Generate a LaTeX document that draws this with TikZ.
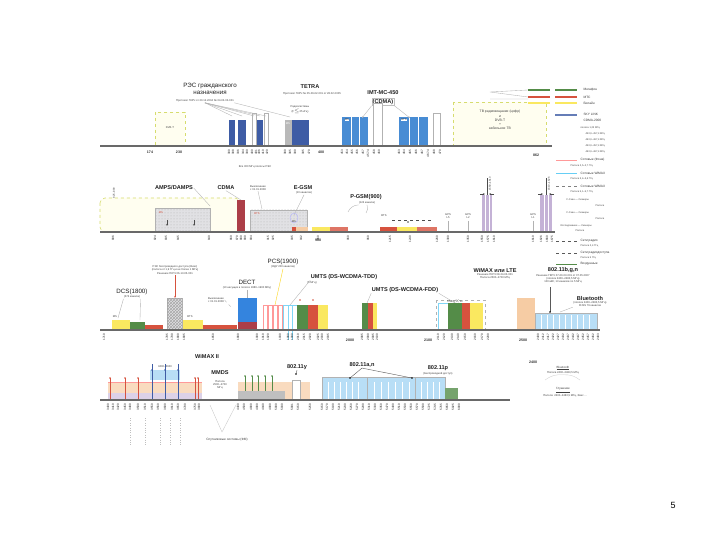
\documentclass[tikz,border=0pt]{standalone}
\usepackage{fontspec}
\setmainfont{Liberation Sans}
\usetikzlibrary{patterns,arrows.meta}
\definecolor{bdark}{RGB}{62,92,165}
\definecolor{bcdma}{RGB}{72,140,212}
\definecolor{pgreen}{RGB}{84,140,72}
\definecolor{pred}{RGB}{214,82,62}
\definecolor{pyell}{RGB}{250,232,96}
\definecolor{porange}{RGB}{246,204,164}
\definecolor{plblue}{RGB}{184,222,246}
\definecolor{pgray}{RGB}{205,205,210}
\definecolor{ppurp}{RGB}{196,178,214}
\definecolor{pdect}{RGB}{52,132,222}
\definecolor{cdmared}{RGB}{172,62,72}
\definecolor{dvbline}{RGB}{214,220,110}
\definecolor{axisc}{RGB}{105,105,105}
\tikzset{
  axis/.style={line width=1.7pt, draw=axisc},
  tick/.style={font=\fontsize{3.1}{3.5}\selectfont, rotate=90, anchor=east, inner sep=0.4pt, text=gray!35!black},
  hlab/.style={font=\bfseries\fontsize{3.6}{4}\selectfont, inner sep=0.5pt, text=gray!40!black},
  ttl/.style={font=\fontsize{6.2}{7}\selectfont, inner sep=0.5pt, text=gray!25!black, align=center},
  bttl/.style={font=\bfseries\fontsize{5.6}{6.5}\selectfont, inner sep=0.5pt, text=gray!25!black, align=center},
  sub/.style={font=\fontsize{2.7}{3.2}\selectfont, inner sep=0.4pt, text=gray!50!black, align=center},
  dvb/.style={draw=dvbline, dashed, fill=yellow!6, line width=0.6pt},
  gbox/.style={draw=gray!60, fill=pgray!60, pattern color=gray!60},
  conn/.style={draw=gray!60, line width=0.35pt},
  leg/.style={font=\fontsize{3.2}{3.8}\selectfont, anchor=west, inner sep=0.4pt, text=gray!45!black},
  legs/.style={font=\fontsize{2.5}{3}\selectfont, anchor=west, inner sep=0.4pt, text=gray!55!black},
  wbar/.style={draw=gray!60, fill=white, line width=0.4pt}
}
\begin{document}
\begin{tikzpicture}[x=1pt,y=-1pt]
\useasboundingbox (0,0) rectangle (720,540);
\fill[white] (0,0) rectangle (720,540);

%% ================= ROW 1 =================
\coordinate (a1s) at (100,146); \coordinate (a1e) at (552,146);
\draw[dvb] (155,112) rectangle (185,145);
\node[sub] (dvbt1) at (170,128) {DVB-T};
\fill[bdark] (229,120) rectangle (235,146);
\fill[bdark] (238,120) rectangle (246,146);
\draw[wbar] (252,113) rectangle (256,146);
\fill[bdark] (257,120) rectangle (263,146);
\draw[wbar] (264,113) rectangle (268,146);
\fill[gray!55] (285,120) rectangle (292,146);
\fill[bdark] (292,120) rectangle (309,146);
\node[sub,text=white] (tms) at (288,124) {MS};
\node[ttl] (rec) at (210,89) {РЭС гражданского\\назначения};
\node[sub] (recs) at (205,101) {Протокол ГКРЧ от 20.12.2004 № 04-03-03-001};
\foreach \x/\n in {232/r1,242/r2,254/r3,260/r4,266/r5}{\coordinate (\n) at (\x,116);}
\foreach \n in {r1,r2,r3,r4,r5}{\draw[conn] (recs.south) -- (\n);}
\draw[conn] (recs.south east) -- (290,117);
\node[bttl] (tetra) at (310,87) {TETRA};
\node[sub] (tetras) at (312,94) {Протокол ГКРЧ № 05-06-02-001 от 28.02.2005};
\node[sub] (radio) at (300,110) {Радиосистемы\\(F$\le$25 кГц)};
\node[bttl] (imt) at (383,93) {IMT-MC-450};
\node[bttl,draw=gray!50,inner sep=1pt] (cdma1) at (383,102) {(CDMA)};
\fill[bcdma] (342,117) rectangle (368,146);
\draw[white,line width=0.3pt] (351,117) -- (351,146) (359,117) -- (359,146);
\draw[wbar] (373,103) rectangle (382,146);
\fill[bcdma] (399,117) rectangle (428,146);
\draw[white,line width=0.3pt] (409,117) -- (409,146) (418,117) -- (418,146);
\draw[wbar] (433,113) rectangle (440,146);
\node[sub,fill=white] (ms1) at (347,120) {MS};
\node[sub,fill=white] (bts1) at (404,120) {BTS};
\coordinate (c1a) at (362,118); \coordinate (c1b) at (410,118);
\draw[conn,-{Stealth[length=2pt]}] (cdma1.south west) -- (c1a);
\draw[conn,-{Stealth[length=2pt]}] (cdma1.south east) -- (c1b);
\draw[dvb] (453,102) rectangle (546,145);
\node[sub,font=\fontsize{3.4}{4.2}\selectfont] (tv) at (500,120) {ТВ радиовещание (цифр)\\и\\DVB-T\\+\\кабельное ТВ};
\draw[axis] (a1s) -- (a1e);
\node[hlab] (l174) at (150,152) {174};
\node[hlab] (l230) at (179,152) {230};
\node[hlab] (l400) at (321,152) {400};
\node[hlab] (l862) at (536,155) {862};
\foreach \x/\t [count=\i] in {229/300,233/308,238/336,243/344,247/390,252/400,256/401,259/406,263/410,267/420,285/380,290/385,295/390,303/395,309/470,342/453,347/454,352/455,357/456,363/457,368/457.4,374/458,379/460,399/463,404/464,410/465,416/466,422/467,428/467.4,434/468,440/470}{
  \node[tick,name=t1\i] at (\x,149) {\t};}
\node[sub] (r1note) at (255,167) {Все 300 МГц полосы РЭС};

%% legend
\coordinate (lg0) at (490,92); \coordinate (lg0b) at (490,99);
\draw[conn] (lg0) -- (528,90) (lg0) -- (528,97) (lg0b) -- (528,99);
\foreach \y/\c/\t [count=\i] in {90/pgreen/Мегафон,97/pred/МТС,103/pyell/Билайн}{
  \draw[line width=2.2pt,\c] (528,\y) -- (550,\y) (555,\y) -- (577,\y);
  \node[leg,name=lg\i] at (583,\y) {\t};}
\draw[line width=1.3pt,bdark!80] (555,115) -- (577,115);
\node[leg] (lg4) at (583,114) {SKY LINK};
\node[leg] (lg5) at (583,120) {CDMA-2000};
\node[legs] (lg6) at (580,128) {полоса 1,23 МГц};
\foreach \y/\t [count=\i] in {134/453{,}0--457{,}4 МГц,140/463{,}0--467{,}4 МГц,146/453{,}0--457{,}4 МГц,152/463{,}0--467{,}4 МГц}{
  \node[legs,name=lgs\i] at (585,\y) {\t};}
\draw[line width=0.8pt,pink!80!red] (556,160) -- (577,160);
\node[leg] (lg7) at (580,160) {Сотовые (Фона)};
\node[legs] (lg8) at (570,166) {Полоса 2,5--2,7 ГГц};
\draw[line width=0.8pt,cyan!60] (556,173) -- (577,173);
\node[leg] (lg9) at (580,173) {Сотовые WiMAX};
\node[legs] (lg10) at (570,179) {Полоса 3,4--3,6 ГГц};
\draw[line width=0.8pt,gray,dashed] (556,186) -- (577,186);
\node[leg] (lg11) at (580,186) {Сотовые WiMAX};
\node[legs] (lg12) at (570,192) {Полоса 5,1--5,7 ГГц};
\node[legs] (lg13) at (566,200) {F-Скан — Сканеры};
\node[legs] (lg14) at (595,206) {Полоса};
\node[legs] (lg15) at (566,213) {F-Скан — Сканеры};
\node[legs] (lg16) at (595,219) {Полоса};
\node[legs] (lg17) at (560,226) {Исследование — Сканеры};
\node[legs] (lg18) at (575,231) {Полоса};
\draw[line width=0.8pt,gray!70!black,dashed] (556,241) -- (577,241);
\node[leg] (lg19) at (580,241) {Сети радио};
\node[legs] (lg20) at (580,246) {Полоса 2,4 ГГц};
\draw[line width=0.8pt,gray!70!black,dashed] (556,253) -- (577,253);
\node[leg] (lg21) at (580,253) {Сети радиодоступа};
\node[legs] (lg22) at (580,258) {Полоса 5 ГГц};
\draw[line width=0.8pt,pgreen] (556,264) -- (577,264);
\node[leg] (lg23) at (580,264) {Воздушные};

%% ================= ROW 2 =================
\coordinate (a2s) at (100,232); \coordinate (a2e) at (555,232);
\draw[dvb,rounded corners=5pt] (100,198) rectangle (240,232);
\node[sub,rotate=90] (r2v) at (114,193) {825--890};
\draw[gbox] (155,208) rectangle (210,232);
\fill[pattern=dots,pattern color=gray!60] (155,208) rectangle (210,232);
\node[sub,text=pred] (ms2) at (161,213) {MS};
\draw[-{Stealth[length=2pt]},gray!60!black,line width=0.3pt] (167,220) -- (167,226);
\draw[-{Stealth[length=2pt]},gray!60!black,line width=0.3pt] (194,220) -- (194,226);
\node[bttl] (amps) at (174,188) {AMPS/DAMPS};
\coordinate (c2a) at (210,206);
\draw[conn] (amps.east) -- (c2a);
\node[bttl] (cdma2) at (226,188) {CDMA};
\fill[cdmared] (237,200) rectangle (245,232);
\draw[gbox] (250,210) rectangle (307,232);
\fill[pattern=dots,pattern color=gray!60] (250,210) rectangle (307,232);
\node[sub,text=pred] (bts2) at (257,214) {BTS};
\coordinate (c2b) at (241,200); \coordinate (c2c) at (262,209);
\draw[conn] (cdma2.south) -- (c2b);
\node[sub] (vykl1) at (258,188) {Выключение\\с 01.01.2008};
\draw[conn] (vykl1.south) -- (c2c);
\node[bttl] (egsm) at (303,188) {E-GSM};
\node[sub] (egsms) at (304,193) {(10 каналов)};
\coordinate (c2d) at (294,215);
\draw[conn] (egsms.south) -- (c2d);
\draw[blue!30,line width=0.4pt] (294,218) ellipse (4 and 5);
\node[sub] (ms3) at (294,222) {MS};
\fill[porange] (292,227) rectangle (308,232);
\fill[pred] (292,227) rectangle (296,232);
\fill[pyell] (312,227) rectangle (330,232);
\fill[pred!80] (330,227) rectangle (348,232);
\node[hlab] (n900) at (318,240) {900};
\node[bttl] (pgsm) at (366,197) {P-GSM(900)};
\node[sub] (pgsms) at (367,203) {(124 канала)};
\coordinate (c2e) at (348,212); \coordinate (c2f) at (366,213);
\draw[conn] (pgsms.south west) to[bend right=30] (c2e);
\draw[conn] (pgsms.south) to[bend left=30] (c2f);
\fill[pred] (380,227) rectangle (397,232);
\fill[pyell] (397,227) rectangle (417,232);
\fill[pred!80] (417,227) rectangle (437,232);
\node[sub] (bts3) at (384,216) {BTS};
\coordinate (d2a) at (392,220); \coordinate (d2b) at (432,220);
\draw[gray!60!black,dashed,line width=0.3pt] (d2a) -- (d2b);
\fill[gray!60!black] (408,222) circle (0.9);
\node[sub] (gps1) at (448,216) {GPS\\L5};
\node[sub] (gps2) at (468,216) {GPS\\L2};
\node[sub] (gps3) at (533,216) {GPS\\L1};
\coordinate (g1) at (448,221); \coordinate (g2) at (468,221); \coordinate (g3) at (533,221);
\draw[conn] (g1) -- (448,232) (g2) -- (468,232) (g3) -- (533,232);
\fill[ppurp] (482,195) rectangle (492,232);
\draw[white,line width=0.3pt] (485,195) -- (485,232) (489,195) -- (489,232);
\fill[ppurp] (540,195) rectangle (552,232);
\draw[white,line width=0.3pt] (544,195) -- (544,232) (548,195) -- (548,232);
\coordinate (p1) at (487,195); \coordinate (p2) at (546,195);
\draw[gray!60!black,line width=0.3pt] (p1) -- (487,178) (p2) -- (546,178);
\draw[-{Stealth[length=2pt]},gray!60!black,line width=0.3pt] (480,194) -- (485,194);
\draw[-{Stealth[length=2pt]},gray!60!black,line width=0.3pt] (494,194) -- (489,194);
\draw[-{Stealth[length=2pt]},gray!60!black,line width=0.3pt] (538,194) -- (543,194);
\draw[-{Stealth[length=2pt]},gray!60!black,line width=0.3pt] (554,194) -- (549,194);
\node[sub,rotate=90] (gl1) at (490,184) {1559--1610};
\node[sub,rotate=90] (gl2) at (549,184) {1610--1626};
\draw[axis] (a2s) -- (a2e);
\foreach \x/\t [count=\i] in {113/806,155/824,166/835,178/845,209/849,231/869,237/870,241/880,245/890,251/894,268/915,273/925,292/935,301/942,318/960,348/960,368/960,390/1215,410/1240,437/1260,448/1300,468/1350,482/1559,488/1575,494/1610,533/1610,541/1626,547/1660,552/1675}{
  \node[tick,name=t2\i] at (\x,235) {\t};}

%% ================= ROW 3 =================
\coordinate (a3s) at (100,330); \coordinate (a3e) at (600,330);
\fill[pyell] (112,320) rectangle (130,330);
\fill[pgreen] (130,322) rectangle (145,330);
\fill[pred] (145,325) rectangle (163,330);
\node[sub] (ms4) at (115,317) {MS};
\node[ttl] (dcs) at (132,292) {DCS(1800)};
\node[sub] (dcss) at (132,297) {(374 канала)};
\coordinate (c3a) at (118,318); \coordinate (c3b) at (140,320);
\draw[conn] (dcss.south west) -- (c3a) (dcss.south east) -- (c3b);
\draw[gbox] (167,298) rectangle (182,330);
\fill[pattern=crosshatch,pattern color=gray!70] (167,298) rectangle (182,330);
\node[sub] (fix) at (175,270) {РЭС беспроводного доступа (Фикс)\\(полоса от 1,9 ГГц и не более 1 МГц)\\Решение ГКРЧ 06-13-05-001};
\coordinate (c3c) at (175,298);
\draw[pred,line width=0.4pt,-{Stealth[length=2pt]}] (fix.south) -- (c3c);
\fill[pyell] (183,320) rectangle (203,330);
\fill[pred] (203,325) rectangle (237,330);
\node[sub] (bts4) at (190,317) {BTS};
\node[sub] (vykl2) at (216,300) {Выключение\\с 01.01.2008};
\coordinate (c3d) at (232,308);
\draw[conn,dashed] (vykl2.east) -- (c3d);
\node[ttl] (dect) at (247,282) {DECT};
\node[sub] (dects) at (247,288) {(10 несущих в полосе 1880--1900 МГц)};
\fill[pdect] (238,298) rectangle (257,322);
\fill[cdmared] (238,322) rectangle (257,330);
\coordinate (c3e) at (247,298);
\draw[conn] (dects.south) -- (c3e);
\foreach \x in {263,268,273,278}{\draw[pink!80!red,line width=0.4pt] (\x,305) rectangle (\x+4,330);}
\node[ttl] (pcs) at (283,262) {PCS(1900)};
\node[sub] (pcss) at (283,267) {(ОДУ 200 каналов)};
\coordinate (c3f) at (275,305);
\draw[conn,yellow!70!orange] (pcss.south) -- (c3f);
\draw[cyan!50,line width=0.4pt] (283,305) rectangle (297,330);
\draw[cyan!50,line width=0.3pt] (288,305) -- (288,340) (292,305) -- (292,340);
\fill[pgreen] (297,305) rectangle (308,330);
\fill[pred] (308,305) rectangle (318,330);
\fill[pyell] (318,305) rectangle (328,330);
\fill[pred] (300,300) circle (0.8); \fill[pred] (313,300) circle (0.8);
\node[bttl] (tdd) at (344,277) {UMTS (DS-WCDMA-TDD)};
\node[sub] (tdds) at (312,283) {(5 МГц)};
\coordinate (c3g) at (290,305);
\draw[conn] (tdd.south west) -- (c3g);
\node[bttl] (fdd) at (405,290) {UMTS (DS-WCDMA-FDD)};
\coordinate (c3h) at (367,303); \coordinate (c3i) at (455,303);
\draw[conn] (fdd.south west) -- (c3h);
\draw[conn] (fdd.south east) -- (c3i);
\fill[pgreen] (362,303) rectangle (368,330);
\fill[pred] (368,303) rectangle (373,330);
\fill[pyell] (373,303) rectangle (377,330);
\draw[gray!60,dashed,line width=0.3pt] (436,300) rectangle (485,330);
\draw[cyan!50,line width=0.4pt] (438,303) rectangle (448,330);
\fill[pgreen] (448,303) rectangle (462,330);
\fill[pred] (462,303) rectangle (470,330);
\fill[pyell] (470,303) rectangle (483,330);
\node[sub] (fdds) at (455,301) {5 МГц$\times$12};
\node[bttl] (wimax) at (495,270) {WiMAX или LTE};
\node[sub] (wimaxs) at (495,276) {Решение ГКРЧ 08-24-03-001\\Полоса 2500--2700 МГц};
\fill[porange] (517,298) rectangle (535,330);
\fill[plblue] (535,313) rectangle (597,330);
\foreach \x in {541,547,553,559,565,571,577,583,589}{\draw[white,line width=0.3pt] (\x,315) -- (\x,330);}
\draw[gray!60,line width=0.3pt] (535,313) rectangle (597,330);
\node[bttl] (wifi) at (563,270) {802.11b,g,n};
\node[sub] (wifis) at (563,279) {Решение ГКРЧ 07-20-03-001 от 07.05.2007\\(полоса 2400--2483,5 МГц)\\100 мВт, 13 каналов по 5 МГц};
\coordinate (c3j) at (550,312);
\draw[gray!70!black,line width=0.4pt] (550,287) -- (c3j);
\fill[black] (c3j) circle (0.9);
\node[bttl] (bt) at (590,298) {Bluetooth};
\node[sub] (bts) at (590,304) {(полоса 2400--2483,5 МГц)\\FHSS 79 каналов};
\coordinate (c3k) at (560,312);
\draw[conn] (bts.south west) -- (c3k);
\draw[axis] (a3s) -- (a3e);
\node[hlab] (n2000) at (350,340) {2000};
\node[hlab] (n2100) at (428,340) {2100};
\node[hlab] (n2500) at (523,340) {2500};
\foreach \x/\t [count=\i] in {104/1710,167/1785,172/1790,178/1800,184/1805,213/1850,238/1880,257/1900,263/1910,268/1920,280/1930,288/1980,292/1990,298/2010,304/2015,310/2020,318/2025,322/2030,328/2035,362/2085,368/2090,373/2095,377/2100,438/2110,444/2120,452/2130,458/2140,465/2150,475/2160,482/2170,488/2200}{
  \node[tick,name=t3\i] at (\x,333) {\t};}
\foreach \x/\t [count=\i] in {538/2400,543/2412,548/2417,553/2422,558/2427,563/2432,568/2437,573/2442,578/2447,583/2452,588/2457,593/2462,598/2483}{
  \node[tick,name=t3b\i] at (\x,333) {\t};}

%% ================= ROW 4 =================
\coordinate (a4s) at (100,400); \coordinate (a4e) at (510,400);
\fill[porange!70] (108,382) rectangle (202,400);
\fill[ppurp!60] (108,393) rectangle (202,400);
\draw[pink!80!red,line width=0.5pt] (108,382) -- (202,382);
\fill[plblue] (150,370) rectangle (180,380);
\foreach \x in {110,125,138,195,198}{\draw[pred,line width=0.4pt] (\x,378) -- (\x,400); \fill[pred] (\x,378) circle (0.8);}
\foreach \x in {152,165,178}{\draw[bdark,line width=0.4pt] (\x,364) -- (\x,400); \fill[bdark] (\x,370) circle (0.8);}
\node[sub] (wmx2) at (165,367) {3400--3600};
\node[bttl] (wmxii) at (207,356) {WiMAX II};
\node[bttl] (mmds) at (220,373) {MMDS};
\node[sub] (mmdss) at (220,385) {Полоса\\2500--2700\\МГц};
\fill[porange!70] (238,382) rectangle (310,400);
\fill[gray!50] (238,391) rectangle (285,400);
\foreach \x in {245,252,258,265,272}{\draw[pgreen,line width=0.4pt] (\x,376) -- (\x,391); \fill[pgreen] (\x,376) circle (0.8);}
\node[bttl] (wy) at (297,367) {802.11y};
\draw[wbar] (292,380) rectangle (300,400);
\coordinate (c4a) at (296,374);
\draw[gray!70!black,line width=0.4pt] (wy.south) -- (c4a);
\fill[black] (c4a) circle (0.9);
\fill[plblue] (322,377) rectangle (445,400);
\draw[gray!60,line width=0.3pt] (322,377) rectangle (367,400) (367,377) rectangle (415,400) (415,377) rectangle (445,400);
\foreach \x in {328,334,340,346,352,358,374,381,388,395,402,409,421,427,433,439}{\draw[white,line width=0.3pt] (\x,382) -- (\x,400);}
\fill[pgreen!80] (445,388) rectangle (458,400);
\node[bttl] (wan) at (362,365) {802.11a,n};
\coordinate (c4b) at (350,378); \coordinate (c4c) at (412,378);
\draw[gray!70!black,line width=0.4pt] (c4b) -- (wan.south) -- (c4c);
\fill[black] (c4b) circle (0.9); \fill[black] (c4c) circle (0.9);
\node[bttl] (wp) at (438,368) {802.11p};
\node[sub] (wps) at (438,374) {(Беспроводной доступ)};
\draw[axis] (a4s) -- (a4e);
\foreach \x/\t [count=\i] in {108/3400,113/3410,118/3420,125/3450,130/3480,138/3500,145/3510,152/3550,158/3560,165/3600,172/3610,178/3650,185/3700,195/3750,199/3800,238/4400,244/4500,251/4800,257/4900,263/4940,270/4990,276/5000,282/5030,292/5091,298/5150,310/5250,322/5150,327/5170,333/5190,339/5210,345/5230,351/5250,357/5270,363/5290,369/5310,375/5330,381/5350,387/5470,393/5490,399/5510,405/5530,411/5550,417/5570,423/5590,429/5725,435/5745,441/5765,447/5850,453/5925,459/6000}{
  \node[tick,name=t4\i] at (\x,403) {\t};}
\foreach \x in {130,145,160,170,180}{\draw[gray!50,dotted,line width=0.4pt] (\x,418) -- (\x,446);}
\node[sub,font=\fontsize{3.2}{4}\selectfont] (sat) at (227,440) {Спутниковые системы (ФМ)};
\coordinate (v1) at (210,405); \coordinate (v2) at (222,432); \coordinate (v3) at (236,405);
\draw[gray!40,line width=0.4pt] (v1) -- (v2) -- (v3);

%% bottom right
\node[hlab] (n2400) at (533,362) {2400};
\node[sub,font=\fontsize{3}{3.6}\selectfont] (btb) at (563,368) {\underline{Bluetooth}};
\node[sub] (btbs) at (563,373) {Полоса 2400--2483,5 МГц};
\coordinate (b1) at (545,380); \coordinate (b2) at (580,380);
\draw[gray!40,line width=0.3pt] (btbs.south) to[bend right=20] (b1);
\draw[gray!40,line width=0.3pt] (btbs.south) to[bend left=20] (b2);
\node[sub,font=\fontsize{3}{3.6}\selectfont] (glu) at (563,390) {\underline{Глушение}};
\node[sub] (glus) at (565,396) {Полоса: 2400--2483,5 МГц, Фикс ...};

\node[font=\fontsize{9}{10}\selectfont] (pg) at (673,505) {5};
\end{tikzpicture}
\end{document}
